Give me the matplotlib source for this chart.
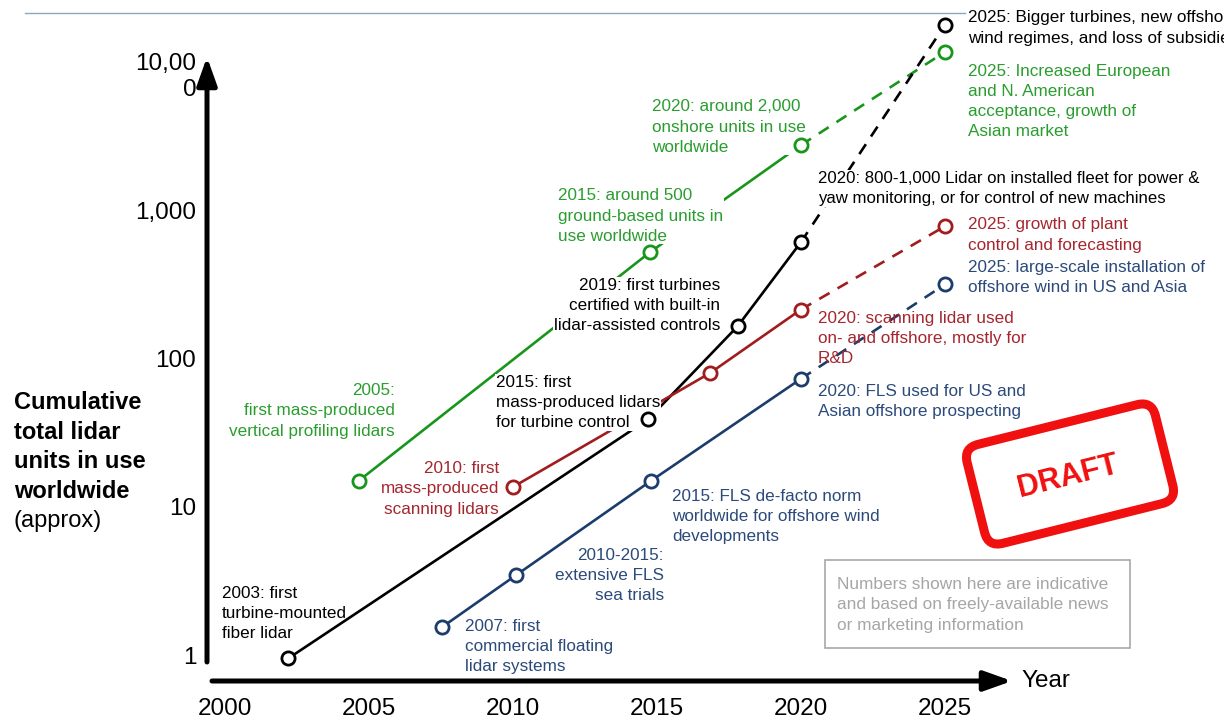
import matplotlib
matplotlib.use("Agg")
import matplotlib.pyplot as plt
from matplotlib.patches import FancyBboxPatch, Rectangle, FancyArrowPatch
from matplotlib.transforms import Affine2D, ScaledTranslation
from matplotlib.lines import Line2D

plt.rcParams['font.family'] = ['Liberation Sans', 'DejaVu Sans']

# ---- data ----
years_black = [2002.2, 2014.7, 2017.8, 2020, 2025]
units_black = [0.95, 39, 165, 610, 17800]
years_green = [2004.65, 2014.75, 2020, 2025]
units_green = [15, 520, 2750, 11700]
years_red = [2010, 2016.85, 2020, 2025]
units_red = [13.6, 80, 214, 780]
years_blue = [2007.55, 2010.1, 2014.8, 2020, 2025]
units_blue = [1.55, 3.45, 15, 73, 316]

x_ticks = [2000, 2005, 2010, 2015, 2020, 2025]
y_ticks = [1, 10, 100, 1000, 10000]
y_tick_labels = ['1', '10', '100', '1,000', '10,00\n0']

C_BLACK = '#000000'
C_GREEN = '#18961c'
C_GREEN_T = '#2a9d2f'
C_RED = '#a11c1f'
C_RED_T = '#a5262e'
C_BLUE = '#1c3c6c'
C_BLUE_T = '#2b4a7a'

W, H = 1224, 722
fig = plt.figure(figsize=(W / 100, H / 100), dpi=100)

# axes placed so 2000 -> px 225, 2025 -> px 945 ; 1 -> py 655, 10000 -> py 62
ax = fig.add_axes([196.2 / W, (H - 699.5) / H, 864 / W, (699.5 - 10.1) / H])
ax.set_xlim(1999, 2029)
ax.set_yscale('log')
ax.set_ylim(10 ** -0.3, 10 ** 4.35)
for s in ax.spines.values():
    s.set_visible(False)
ax.set_xticks(x_ticks)
ax.set_xticklabels([str(x) for x in x_ticks], fontsize=17.5)
ax.set_yticks(y_ticks)
ax.set_yticklabels(y_tick_labels, fontsize=17.5, linespacing=1.22)
ax.minorticks_off()
ax.tick_params(axis='both', length=0)
ax.tick_params(axis='x', pad=-1)
ax.tick_params(axis='y', pad=0)
lbl = ax.get_yticklabels()[-1]
lbl.set_transform(lbl.get_transform() + ScaledTranslation(0, -0.11, fig.dpi_scale_trans))
ax.patch.set_visible(False)


def series(xs, ys, color):
    ax.plot(xs[:-1], ys[:-1], color=color, lw=1.9, zorder=2, solid_capstyle='butt')
    ax.plot(xs[-2:], ys[-2:], color=color, lw=1.9, zorder=2, dashes=(4.5, 3.5))
    ax.plot(xs, ys, ls='none', marker='o', ms=9.5, mfc='white', mec=color, mew=2.0, zorder=5)


series(years_green, units_green, C_GREEN)
series(years_black, units_black, C_BLACK)
series(years_red, units_red, C_RED)
series(years_blue, units_blue, C_BLUE)


def fx(px):
    return px / W


def fy(py):
    return 1 - py / H


def note(px, py1, py2, s, color, ha='left', bg=False, size=12.3):
    yc = (py1 + py2) / 2
    kw = {}
    if bg:
        kw['bbox'] = dict(facecolor='white', edgecolor='none', pad=0.5)
    ax.text(fx(px), fy(yc + 2), s, transform=fig.transFigure, ha=ha, va='center', color=color,
            fontsize=size, linespacing=1.42, zorder=3, multialignment=ha, clip_on=False, **kw)


# green notes
note(395, 388, 430, '2005:\nfirst mass-produced\nvertical profiling lidars', C_GREEN_T, ha='right')
note(558, 193, 235, '2015: around 500\nground-based units in\nuse worldwide', C_GREEN_T, bg=True)
note(652, 104, 146, '2020: around 2,000\nonshore units in use\nworldwide', C_GREEN_T, bg=True)
note(968, 68, 131, '2025: Increased European\nand N. American\nacceptance, growth of\nAsian market', C_GREEN_T)

# black notes
note(222, 591, 632, '2003: first\nturbine-mounted\nfiber lidar', C_BLACK)
note(496, 380, 421, '2015: first\nmass-produced lidars\nfor turbine control', C_BLACK, bg=True)
note(720, 283, 324, '2019: first turbines\ncertified with built-in\nlidar-assisted controls', C_BLACK, ha='right', bg=True)
note(818, 176, 197, '2020: 800-1,000 Lidar on installed fleet for power &\nyaw monitoring, or for control of new machines',
     C_BLACK, bg=True, size=12.1)
note(968, 16, 36, '2025: Bigger turbines, new offshore\nwind regimes, and loss of subsidies', C_BLACK, bg=True)

# red notes
note(499, 466, 508, '2010: first\nmass-produced\nscanning lidars', C_RED_T, ha='right')
note(818, 316, 357, '2020: scanning lidar used\non- and offshore, mostly for\nR&D', C_RED_T)
note(968, 223, 243, '2025: growth of plant\ncontrol and forecasting', C_RED_T)

# blue notes
note(465, 624, 665, '2007: first\ncommercial floating\nlidar systems', C_BLUE_T)
note(664, 553, 594, '2010-2015:\nextensive FLS\nsea trials', C_BLUE_T, ha='right')
note(672, 494, 535, '2015: FLS de-facto norm\nworldwide for offshore wind\ndevelopments', C_BLUE_T)
note(818, 389, 410, '2020: FLS used for US and\nAsian offshore prospecting', C_BLUE_T)
note(968, 265, 286, '2025: large-scale installation of\noffshore wind in US and Asia', C_BLUE_T)

# axis arrows
arrow_kw = dict(arrowstyle='-|>,head_length=0.42,head_width=0.15', lw=3.6, color='black',
                mutation_scale=40, shrinkA=0, shrinkB=0)
fig.add_artist(FancyArrowPatch((fx(207), fy(662)), (fx(207), fy(57)),
                               transform=fig.transFigure, **arrow_kw))
fig.add_artist(FancyArrowPatch((fx(212), fy(681)), (fx(1012), fy(681)),
                               transform=fig.transFigure, **arrow_kw))
fig.text(fx(1021), fy(681), 'Year', ha='left', va='center', fontsize=17.5)

# y-axis title
fig.text(fx(14), fy(447), 'Cumulative\ntotal lidar\nunits in use\nworldwide', ha='left', va='center',
         fontsize=17, fontweight='bold', linespacing=1.38)
fig.text(fx(14), fy(521), '(approx)', ha='left', va='center', fontsize=17)

# top header line
fig.add_artist(Line2D([fx(25), fx(965)], [fy(13), fy(13)], color='#8ea6c6', lw=1.0))

# note box
fig.add_artist(Rectangle((fx(825), fy(648)), (1130 - 825) / W, (648 - 560) / H,
                         transform=fig.transFigure, fill=False, edgecolor='#a8a8a8', lw=1.2))
fig.text(fx(837), fy(605), 'Numbers shown here are indicative\nand based on freely-available news\nor marketing information',
         ha='left', va='center', fontsize=12.4, color='#a6a6a6', linespacing=1.42)

# DRAFT stamp (in inches)
cx, cy = 10.70, (H - 474) / 100
w, h = 1.94, 1.02
rot = Affine2D().rotate_deg_around(cx, cy, 14) + fig.dpi_scale_trans
stamp = FancyBboxPatch((cx - w / 2, cy - h / 2), w, h, boxstyle='round,pad=0,rounding_size=0.15',
                       transform=rot, fill=False, edgecolor='#f01010', lw=6.5)
fig.add_artist(stamp)
fig.text(fx(1068), fy(477), 'DRAFT', rotation=14, rotation_mode='anchor', ha='center', va='center',
         color='#f01010', fontsize=22, fontweight='bold')

fig.savefig('out.png', dpi=100)
